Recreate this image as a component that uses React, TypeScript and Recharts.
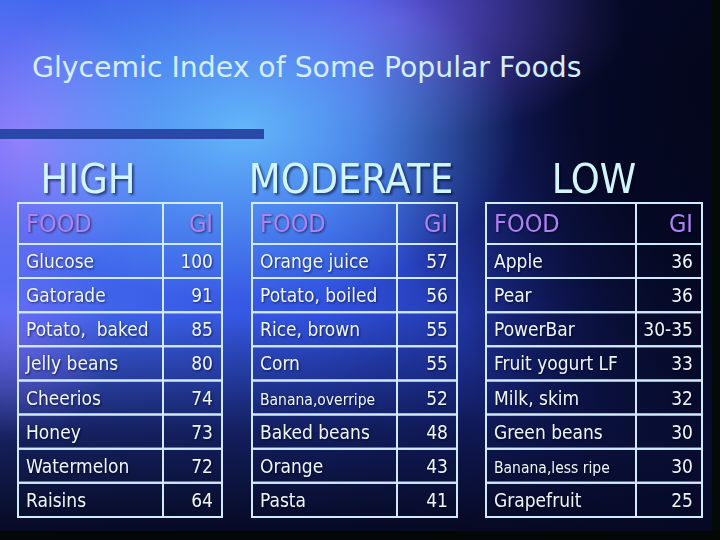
import { ComposedChart, XAxis, YAxis, Scatter, ReferenceArea } from "recharts"

// slide text
const title = "Glycemic Index of Some Popular Foods"
const categories = ["HIGH", "MODERATE", "LOW"]
const columnHeaders = ["FOOD", "GI"]

// table data, one pair of lists per category
const highFoods = ["Glucose", "Gatorade", "Potato,  baked", "Jelly beans", "Cheerios", "Honey", "Watermelon", "Raisins"]
const highGI = ["100", "91", "85", "80", "74", "73", "72", "64"]

const moderateFoods = ["Orange juice", "Potato, boiled", "Rice, brown", "Corn", "Banana,overripe", "Baked beans", "Orange", "Pasta"]
const moderateGI = ["57", "56", "55", "55", "52", "48", "43", "41"]

const lowFoods = ["Apple", "Pear", "PowerBar", "Fruit yogurt LF", "Milk, skim", "Green beans", "Banana,less ripe", "Grapefruit"]
const lowGI = ["36", "36", "30-35", "33", "32", "30", "30", "25"]

// layout (pixels across the slide, header row is a bit taller)
const FONT = "'DejaVu Sans Condensed', 'DejaVu Sans', sans-serif"
const TITLE_FONT = "'DejaVu Sans', sans-serif"
const HEADER_ROWS = 1.2
const columns = [
  { left: 18, divider: 163, right: 222, titleX: 88 },
  { left: 252, divider: 397, right: 457, titleX: 351 },
  { left: 486, divider: 636, right: 702, titleX: 594 },
]
const smallLabels = ["Banana,overripe", "Banana,less ripe"]

const groups = [
  { foods: highFoods, gi: highGI },
  { foods: moderateFoods, gi: moderateGI },
  { foods: lowFoods, gi: lowGI },
]

const rowTop = (r: number) => (r === 0 ? 0 : HEADER_ROWS + r - 1)
const rowBottom = (r: number) => (r === 0 ? HEADER_ROWS : HEADER_ROWS + r)
const rowMid = (r: number) => (rowTop(r) + rowBottom(r)) / 2

const foodPoints = groups.flatMap((g, gi) => [
  { x: columns[gi].left + 8, y: rowMid(0), label: columnHeaders[0], header: true, anchor: "start" },
  ...g.foods.map((f, i) => ({ x: columns[gi].left + 8, y: rowMid(i + 1), label: f, header: false, anchor: "start" })),
])
const giPoints = groups.flatMap((g, gi) => [
  { x: columns[gi].right - 9, y: rowMid(0), label: columnHeaders[1], header: true, anchor: "end" },
  ...g.gi.map((v, i) => ({ x: columns[gi].right - 9, y: rowMid(i + 1), label: v, header: false, anchor: "end" })),
])

const CellText = (props: any) => {
  const { cx, cy, payload } = props
  const small = smallLabels.includes(payload.label)
  return (
    <text
      x={cx}
      y={payload.header ? cy + 9 : cy + 7}
      textAnchor={payload.anchor}
      fontFamily={FONT}
      fontSize={payload.header ? 25 : small ? 15.5 : 19}
      fill={payload.header ? "#ad82f2" : "#eef7ff"}
      style={{ whiteSpace: "pre", filter: "drop-shadow(1px 1px 1px rgba(0,0,20,0.6))" }}
    >
      {payload.label}
    </text>
  )
}

const bg = [
  "radial-gradient(ellipse 38% 32% at 34% 24%, rgba(110,205,255,0.8), rgba(110,205,255,0) 100%)",
  "radial-gradient(ellipse 20% 26% at 3% 26%, rgba(185,120,255,0.7), rgba(185,120,255,0) 100%)",
  "radial-gradient(ellipse 14% 20% at 2% 62%, rgba(150,110,255,0.45), rgba(150,110,255,0) 100%)",
  "radial-gradient(ellipse 32% 22% at 55% 4%, rgba(150,105,255,0.5), rgba(150,105,255,0) 100%)",
  "radial-gradient(ellipse 50% 70% at 100% 16%, rgba(4,6,28,1) 0%, rgba(4,6,28,0.85) 40%, rgba(4,6,28,0) 100%)",
  "radial-gradient(ellipse 35% 60% at 100% 60%, rgba(6,10,40,0.8) 0%, rgba(6,10,40,0) 100%)",
  "linear-gradient(to bottom, rgba(10,16,60,0) 58%, rgba(10,16,60,0.8) 80%, rgba(5,8,30,1) 100%)",
  "linear-gradient(to right, #466cf0 0%, #3152e0 45%, #1c2c94 75%, #0a1040 100%)",
].join(", ")

export default function App() {
  return (
    <div style={{ position: "absolute", left: 0, top: 0, width: 720, height: 540, background: bg, overflow: "hidden" }}>
      <svg width={720} height={540} style={{ position: "absolute", left: 0, top: 0 }}>
        <text x={32} y={77} fontFamily={TITLE_FONT} fontSize={28.3} fill="#d4eeff">
          {title}
        </text>
        <rect x={0} y={129} width={264} height={10} fill="#2a48a8" />
        {categories.map((c, i) => (
          <text
            key={c}
            x={columns[i].titleX}
            y={193}
            textAnchor="middle"
            fontFamily={FONT}
            fontSize={41}
            fill="#d2f6ff"
            style={{ filter: "drop-shadow(2px 2px 1px rgba(0,0,30,0.55))" }}
          >
            {c}
          </text>
        ))}
        <rect x={712} y={0} width={8} height={540} fill="#030a08" />
        <rect x={0} y={531} width={720} height={9} fill="#030806" />
      </svg>
      <div style={{ position: "absolute", left: 0, top: 0 }}>
        <ComposedChart width={720} height={540} margin={{ top: 203, right: 0, bottom: 23, left: 0 }}>
          <XAxis type="number" dataKey="x" domain={[0, 720]} hide />
          <YAxis type="number" dataKey="y" domain={[0, 8 + HEADER_ROWS]} reversed hide />
          {columns.flatMap((c, gi) =>
            Array.from({ length: 9 }, (_, r) => [
              <ReferenceArea key={`a${gi}-${r}`} x1={c.left} x2={c.divider} y1={rowTop(r)} y2={rowBottom(r)} fill="none" stroke="#d2eaff" strokeWidth={2} />,
              <ReferenceArea key={`b${gi}-${r}`} x1={c.divider} x2={c.right} y1={rowTop(r)} y2={rowBottom(r)} fill="none" stroke="#d2eaff" strokeWidth={2} />,
            ]).flat()
          )}
          <Scatter data={foodPoints} shape={CellText} isAnimationActive={false} />
          <Scatter data={giPoints} shape={CellText} isAnimationActive={false} />
        </ComposedChart>
      </div>
    </div>
  )
}
